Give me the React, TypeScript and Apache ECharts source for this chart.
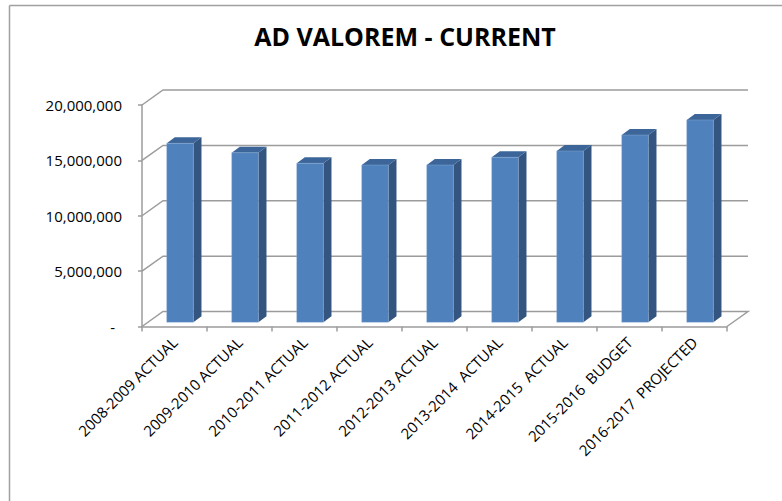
import React, { useEffect, useRef } from 'react';
import * as echarts from 'echarts';

const categories = [
  '2008-2009 ACTUAL',
  '2009-2010 ACTUAL',
  '2010-2011 ACTUAL',
  '2011-2012 ACTUAL',
  '2012-2013 ACTUAL',
  '2013-2014  ACTUAL',
  '2014-2015  ACTUAL',
  '2015-2016  BUDGET',
  '2016-2017  PROJECTED',
];
const values = [16160000, 15310000, 14360000, 14200000, 14200000, 14900000, 15470000, 16910000, 18270000];
const yTicks = [0, 5000000, 10000000, 15000000, 20000000];
const titleText = 'AD VALOREM - CURRENT';

const FONT = '"Open Sans", "Noto Sans", sans-serif';
const GRID_COLOR = '#9c9c9c';
const FRONT = '#4F81BD';
const SIDE = '#34557F';
const TOP = '#3C6699';
const DX = 21;
const DY = -15;
const OY = -4.2;

export default function App() {
  const ref = useRef<HTMLDivElement>(null);
  useEffect(() => {
    if (!ref.current) return;
    const chart = echarts.init(ref.current, null, { renderer: 'svg' });
    const option: any = {
      animation: false,
      backgroundColor: '#ffffff',
      title: {
        text: titleText,
        left: 400,
        top: 18,
        textAlign: 'center',
        textStyle: { fontFamily: FONT, fontSize: 25, fontWeight: 'bold', color: '#000' },
      },
      graphic: [
        { type: 'line', shape: { x1: 9.5, y1: 5.5, x2: 782, y2: 5.5 }, style: { stroke: '#a0a0a0', lineWidth: 1.5 } },
        { type: 'line', shape: { x1: 9.5, y1: 5.5, x2: 9.5, y2: 501 }, style: { stroke: '#a0a0a0', lineWidth: 1.5 } },
      ],
      grid: { left: 142, right: 55, top: 105, bottom: 174.5, containLabel: false },
      xAxis: {
        type: 'category',
        data: categories,
        boundaryGap: true,
        axisLine: { show: true, lineStyle: { color: GRID_COLOR, width: 1.5 } },
        axisTick: { show: true, length: 5, lineStyle: { color: GRID_COLOR, width: 1.5 } },
        axisLabel: {
          interval: 0,
          rotate: 45,
          margin: 13,
          fontFamily: FONT,
          fontSize: 15,
          color: '#000',
        },
        splitLine: { show: false },
      },
      yAxis: {
        type: 'value',
        min: 0,
        max: 20000000,
        interval: 5000000,
        axisLine: { show: true, lineStyle: { color: GRID_COLOR, width: 1.5 } },
        axisTick: { show: true, length: 4, lineStyle: { color: GRID_COLOR, width: 1.5 } },
        splitLine: { show: false },
        axisLabel: {
          margin: 20,
          fontFamily: FONT,
          fontSize: 15,
          color: '#000',
          formatter: (v: number) => (v === 0 ? '{z|-}' : v.toLocaleString('en-US')),
          rich: { z: { fontFamily: FONT, fontSize: 15, color: '#000', padding: [0, 7, 0, 0] } },
        },
      },
      series: [
        {
          type: 'custom',
          name: 'walls',
          z: 1,
          silent: true,
          data: yTicks.map((v) => [0, v]),
          renderItem: (params: any, api: any) => {
            const v = api.value(1);
            const p = api.coord([0, v]);
            const band = api.size([1, 0])[0];
            const lx = p[0] - band / 2;
            const rx = lx + band * categories.length;
            const pts: number[][] = [
              [lx, p[1]],
              [lx + DX, p[1] + DY],
              [rx + DX, p[1] + DY],
            ];
            if (v === 0) pts.push([rx, p[1]]);
            return {
              type: 'polyline',
              shape: { points: pts },
              style: { stroke: GRID_COLOR, lineWidth: 1.5, fill: null },
            };
          },
        },
        {
          type: 'custom',
          name: 'AD VALOREM',
          z: 5,
          data: values.map((v, i) => [i, v]),
          renderItem: (params: any, api: any) => {
            const i = api.value(0);
            const v = api.value(1);
            const base = api.coord([i, 0]);
            const top = api.coord([i, v]);
            const band = api.size([1, 0])[0];
            const w = band * 0.41;
            const cx = base[0] + band * 0.085;
            const x0 = cx - w / 2;
            const x1 = cx + w / 2;
            const y0 = top[1] + OY;
            const y1 = base[1] + OY;
            const sx = band * 0.125;
            const sy = -6;
            return {
              type: 'group',
              children: [
                {
                  type: 'polygon',
                  shape: { points: [[x1, y0], [x1 + sx, y0 + sy], [x1 + sx, y1 + sy], [x1, y1]] },
                  style: { fill: SIDE },
                },
                {
                  type: 'polygon',
                  shape: { points: [[x0, y0], [x0 + sx, y0 + sy], [x1 + sx, y0 + sy], [x1, y0]] },
                  style: { fill: TOP },
                },
                {
                  type: 'rect',
                  shape: { x: x0, y: y0, width: w, height: y1 - y0 },
                  style: { fill: FRONT, stroke: 'rgba(150,180,220,0.6)', lineWidth: 0.6 },
                },
              ],
            };
          },
        },
      ],
    };
    chart.setOption(option);
    return () => chart.dispose();
  }, []);
  return (
    <div
      ref={ref}
      style={{ position: 'absolute', left: 0, top: 0, width: 782, height: 501, background: '#fff' }}
    />
  );
}
